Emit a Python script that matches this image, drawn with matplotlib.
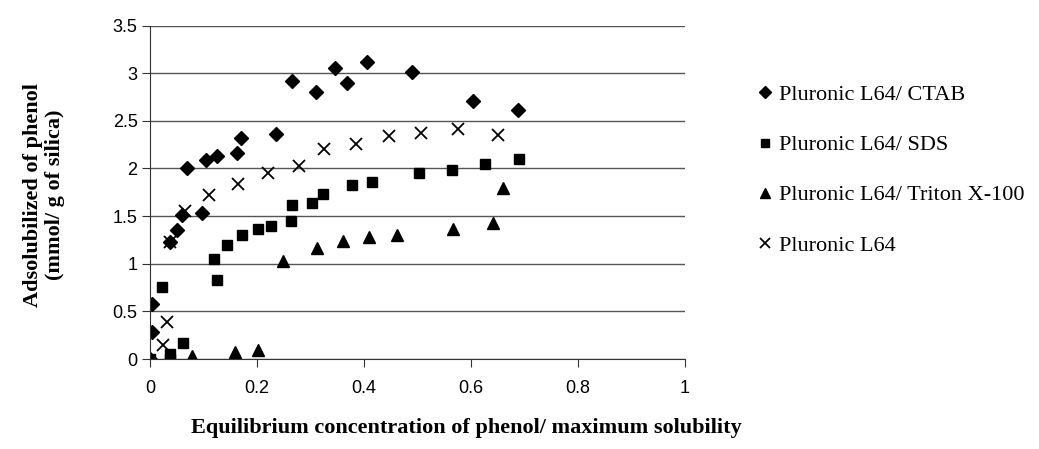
import matplotlib
matplotlib.use("Agg")
from matplotlib import pyplot as plt

# data
ctab_x = [0.0, 0.003, 0.003, 0.037, 0.050, 0.059, 0.070, 0.097, 0.105, 0.125, 0.162, 0.170,
          0.235, 0.265, 0.310, 0.346, 0.368, 0.405, 0.490, 0.604, 0.688]
ctab_y = [0.0, 0.28, 0.58, 1.23, 1.35, 1.51, 2.01, 1.53, 2.09, 2.13, 2.16, 2.32,
          2.36, 2.92, 2.80, 3.06, 2.90, 3.12, 3.01, 2.71, 2.61]

sds_x = [0.0, 0.037, 0.037, 0.061, 0.022, 0.120, 0.126, 0.143, 0.171, 0.201, 0.226, 0.263,
         0.266, 0.303, 0.323, 0.377, 0.414, 0.503, 0.564, 0.626, 0.690]
sds_y = [0.0, 0.0, 0.05, 0.17, 0.76, 1.05, 0.83, 1.20, 1.30, 1.36, 1.40, 1.45,
         1.62, 1.64, 1.73, 1.83, 1.86, 1.95, 1.98, 2.05, 2.10]

triton_x = [0.0, 0.078, 0.158, 0.201, 0.248, 0.313, 0.361, 0.409, 0.462, 0.566, 0.642, 0.660]
triton_y = [0.0, 0.03, 0.07, 0.09, 1.03, 1.17, 1.24, 1.28, 1.30, 1.37, 1.43, 1.79]

l64_x = [0.024, 0.032, 0.037, 0.065, 0.111, 0.165, 0.220, 0.279, 0.325, 0.385, 0.446,
         0.507, 0.575, 0.651]
l64_y = [0.15, 0.39, 1.23, 1.55, 1.72, 1.84, 1.95, 2.03, 2.20, 2.26, 2.34,
         2.37, 2.41, 2.35]

labels = ["Pluronic L64/ CTAB", "Pluronic L64/ SDS", "Pluronic L64/ Triton X-100", "Pluronic L64"]
xticks = [0, 0.2, 0.4, 0.6, 0.8, 1]
xtick_labels = ["0", "0.2", "0.4", "0.6", "0.8", "1"]
yticks = [0, 0.5, 1, 1.5, 2, 2.5, 3, 3.5]
ytick_labels = ["0", "0.5", "1", "1.5", "2", "2.5", "3", "3.5"]

fig = plt.figure(figsize=(10.39, 4.49), dpi=100)
ax = fig.add_axes([0.1444, 0.2004, 0.5149, 0.7426])

ax.plot(ctab_x, ctab_y, "D", color="black", markersize=7.5, linestyle="none", label=labels[0])
ax.plot(sds_x, sds_y, "s", color="black", markersize=7.5, linestyle="none", label=labels[1])
ax.plot(triton_x, triton_y, "^", color="black", markersize=8.5, linestyle="none", label=labels[2])
ax.plot(l64_x, l64_y, "x", color="black", markersize=9, markeredgewidth=1.3, linestyle="none", label=labels[3])

ax.set_xlim(0, 1)
ax.set_ylim(0, 3.5)
ax.set_xticks(xticks)
ax.set_xticklabels(xtick_labels)
ax.set_yticks(yticks)
ax.set_yticklabels(ytick_labels)
ax.grid(axis="y", color="#555555", linewidth=1.0)
ax.set_axisbelow(True)
for s in ["top", "right"]:
    ax.spines[s].set_visible(False)
ax.spines["left"].set_color("#333333")
ax.spines["bottom"].set_color("#333333")
ax.tick_params(axis="both", direction="out", length=6, colors="#333333",
               labelcolor="black", labelsize=13)
for t in ax.get_xticklabels() + ax.get_yticklabels():
    t.set_family("Liberation Sans")
ax.tick_params(axis="x", pad=9)
ax.tick_params(axis="y", pad=3)

fig.text(0.449, 0.047, "Equilibrium concentration of phenol/ maximum solubility",
         ha="center", va="center", family="Liberation Serif", fontweight="bold", fontsize=16)
fig.text(0.042, 0.566, "Adsolubilized of phenol\n(mmol/ g of silica)", rotation=90,
         ha="center", va="center", family="Liberation Serif", fontweight="bold",
         fontsize=16, linespacing=1.15)

leg = ax.legend(loc="upper left", bbox_to_anchor=(0.711, 0.856), bbox_transform=fig.transFigure,
                frameon=False, markerscale=0.8, handlelength=0.55, handletextpad=0.35,
                labelspacing=1.33, prop={"family": "Liberation Serif", "size": 16})

fig.savefig("out.png", dpi=100)
